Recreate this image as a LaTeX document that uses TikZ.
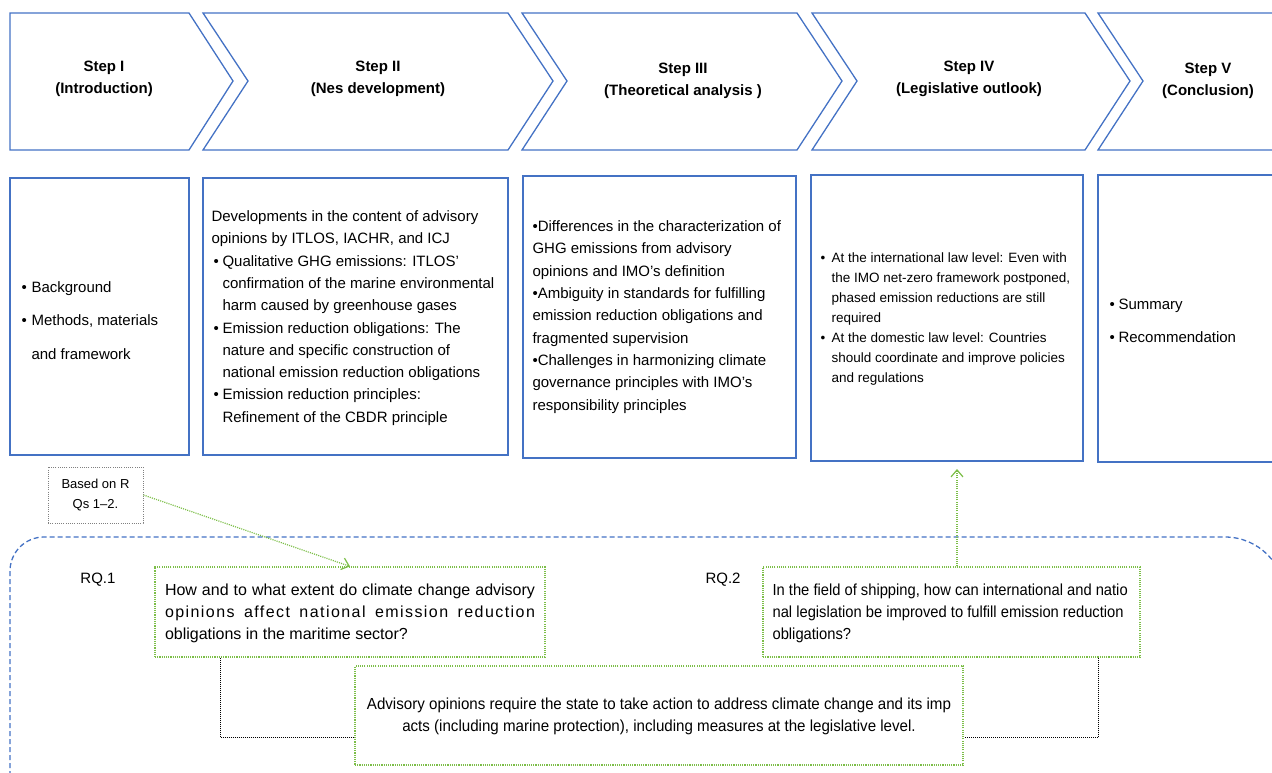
\documentclass[tikz,border=0pt]{standalone}
\usepackage{fontspec}
\setmainfont{Liberation Sans}
\usetikzlibrary{arrows.meta}
\definecolor{stepblue}{RGB}{68,114,196}
\definecolor{rqgreen}{RGB}{124,190,72}
\definecolor{notegrey}{RGB}{128,128,128}
\newcommand\itembul[1]{\makebox[#1][l]{\textbullet}}
\newcommand\itemgap[1]{\hspace*{#1}}

\begin{document}
\begin{tikzpicture}[x=1pt,y=-1pt,
  chevron/.style={draw=stepblue, line width=1.3pt, line join=miter},
  steptitle/.style={font=\bfseries\fontsize{15}{22}\selectfont, align=center, inner sep=0pt},
  panel/.style={draw=stepblue, line width=1.3pt, inner sep=0pt},
  paneltext/.style={anchor=west, align=left, inner sep=0pt, font=\fontsize{15}{22.3}\selectfont},
  rqbox/.style={draw=rqgreen, line width=1.2pt, dash pattern=on 1.1pt off 1.1pt, inner sep=0pt},
  rqtext/.style={align=left, inner sep=0pt, font=\fontsize{16}{22}\selectfont},
  notebox/.style={draw=notegrey, line width=1pt, dash pattern=on 1pt off 1.2pt, inner sep=0pt,
    align=center, font=\fontsize{13}{20}\selectfont},
  greenarrow/.style={draw=rqgreen, line width=1.2pt, dash pattern=on 1.1pt off 1.1pt,
    -{Straight Barb[length=7pt,width=12pt,line width=1.2pt]}},
  blackdots/.style={draw=black, line width=1pt, dash pattern=on 0.8pt off 1.2pt},
  rqframe/.style={draw=stepblue, line width=1.3pt, dash pattern=on 5pt off 3pt},
  rqlabel/.style={inner sep=0pt, font=\fontsize{15}{18}\selectfont}
]
\useasboundingbox (0,0) rectangle (1272,772);
\clip (0,0) rectangle (1272,772);

% ---------- process chevrons ----------
\draw[chevron] (10,13) -- (189,13) -- (233,81) -- (189,150) -- (10,150) -- cycle;
\draw[chevron] (203,13) -- (508,13) -- (553,81) -- (508,150) -- (203,150) -- (248,81) -- cycle;
\draw[chevron] (522,13) -- (797,13) -- (842,81) -- (797,150) -- (522,150) -- (567,81) -- cycle;
\draw[chevron] (812,13) -- (1085,13) -- (1130,81) -- (1085,150) -- (812,150) -- (857,81) -- cycle;
\draw[chevron] (1300,13) -- (1098,13) -- (1143,81) -- (1098,150) -- (1300,150);

\node[steptitle] (s1) at (104,78.5) {Step I\\(Introduction)};
\node[steptitle] (s2) at (378,78.5) {Step II\\(Nes development)};
\node[steptitle] (s3) at (683,80.5) {Step III\\(Theoretical analysis )};
\node[steptitle] (s4) at (969,78.5) {Step IV\\(Legislative outlook)};
\node[steptitle] (s5) at (1208,80.5) {Step V\\(Conclusion)};

% ---------- content panels ----------
\node[panel, minimum width=179pt, minimum height=277pt] (b1) at (99.5,316.5) {};
\node[panel, minimum width=305pt, minimum height=277pt] (b2) at (355.5,316.5) {};
\node[panel, minimum width=273pt, minimum height=282pt] (b3) at (659.5,317) {};
\node[panel, minimum width=272pt, minimum height=286pt] (b4) at (947,318) {};
\node[panel, minimum width=192pt, minimum height=287pt] (b5) at (1194,318.5) {};

\node[paneltext, font=\fontsize{15}{33.5}\selectfont] (t1) at ([xshift=12pt,yshift=-4pt]b1.west)
  {\itembul{10pt}Background\\
   \itembul{10pt}Methods, materials\\
   \itemgap{10pt}and framework};

\node[paneltext] (t2) at ([xshift=9pt,yshift=-1.5pt]b2.west)
  {Developments in the content of advisory\\
   opinions by ITLOS, IACHR, and ICJ\\
   \itemgap{2pt}\itembul{9pt}Qualitative GHG emissions: ITLOS'\\
   \itemgap{11pt}confirmation of the marine environmental\\
   \itemgap{11pt}harm caused by greenhouse gases\\
   \itemgap{2pt}\itembul{9pt}Emission reduction obligations: The\\
   \itemgap{11pt}nature and specific construction of\\
   \itemgap{11pt}national emission reduction obligations\\
   \itemgap{2pt}\itembul{9pt}Emission reduction principles:\\
   \itemgap{11pt}Refinement of the CBDR principle};

\node[paneltext] (t3) at ([xshift=10pt]b3.west)
  {\textbullet Differences in the characterization of\\
   GHG emissions from advisory\\
   opinions and IMO's definition\\
   \textbullet Ambiguity in standards for fulfilling\\
   emission reduction obligations and\\
   fragmented supervision\\
   \textbullet Challenges in harmonizing climate\\
   governance principles with IMO's\\
   responsibility principles};

\node[paneltext, font=\fontsize{13.5}{20}\selectfont] (t4) at ([xshift=10pt,yshift=-1pt]b4.west)
  {\itembul{11pt}At the international law level: Even with\\
   \itemgap{11pt}the IMO net-zero framework postponed,\\
   \itemgap{11pt}phased emission reductions are still\\
   \itemgap{11pt}required\\
   \itembul{11pt}At the domestic law level: Countries\\
   \itemgap{11pt}should coordinate and improve policies\\
   \itemgap{11pt}and regulations};

\node[paneltext, font=\fontsize{15}{33.5}\selectfont] (t5) at ([xshift=12pt,yshift=-2.5pt]b5.west)
  {\itembul{9pt}Summary\\
   \itembul{9pt}Recommendation};

% ---------- research questions ----------
\draw[rqframe] (10,800) [rounded corners=34pt] -- (10,537) -- (650,537)
  [rounded corners=60pt] -- (1285,537) -- (1285,800);

\node[notebox, minimum width=95pt, minimum height=56pt] (note) at (95.5,495) {Based on R\\Qs 1--2.};

\node[rqlabel] (l1) at (98,580) {RQ.1};
\node[rqlabel] (l2) at (723,580) {RQ.2};

\node[rqbox, minimum width=390pt, minimum height=90pt] (rq1) at (350,612) {};
\node[rqtext] (rq1t) at ([yshift=-1pt]rq1.center)
  {\makebox[370pt][s]{How and to what extent do climate change advisory}\\
   \makebox[370pt][s]{\addfontfeature{LetterSpace=9}opinions affect national emission reduction}\\
   obligations in the maritime sector?};

\node[rqbox, minimum width=377pt, minimum height=90pt] (rq2) at (951.5,612) {};
\node[rqtext, anchor=west, font=\fontsize{16}{22}\selectfont\addfontfeature{FakeStretch=0.92}]
  (rq2t) at ([xshift=10pt,yshift=-1pt]rq2.west)
  {In the field of shipping, how can international and natio\\
   nal legislation be improved to fulfill emission reduction\\
   obligations?};

\node[rqbox, minimum width=608pt, minimum height=99pt] (bot) at (659,715.5) {};
\node[rqtext, align=center, font=\fontsize{16}{22}\selectfont\addfontfeature{FakeStretch=0.945}]
  (bott) at ([yshift=-0.5pt]bot.center)
  {Advisory opinions require the state to take action to address climate change and its imp\\
   acts (including marine protection), including measures at the legislative level.};

% ---------- connectors ----------
\coordinate (b4in) at (957,469);
\draw[greenarrow] (note.east) -- (rq1.north);
\draw[greenarrow] (rq2.north -| b4in) -- (b4in);
\draw[blackdots] ([xshift=-130pt]rq1.south) |- ([yshift=-21.5pt]bot.west);
\draw[blackdots] ([xshift=146.5pt]rq2.south) |- ([yshift=-21.5pt]bot.east);
\end{tikzpicture}
\end{document}
